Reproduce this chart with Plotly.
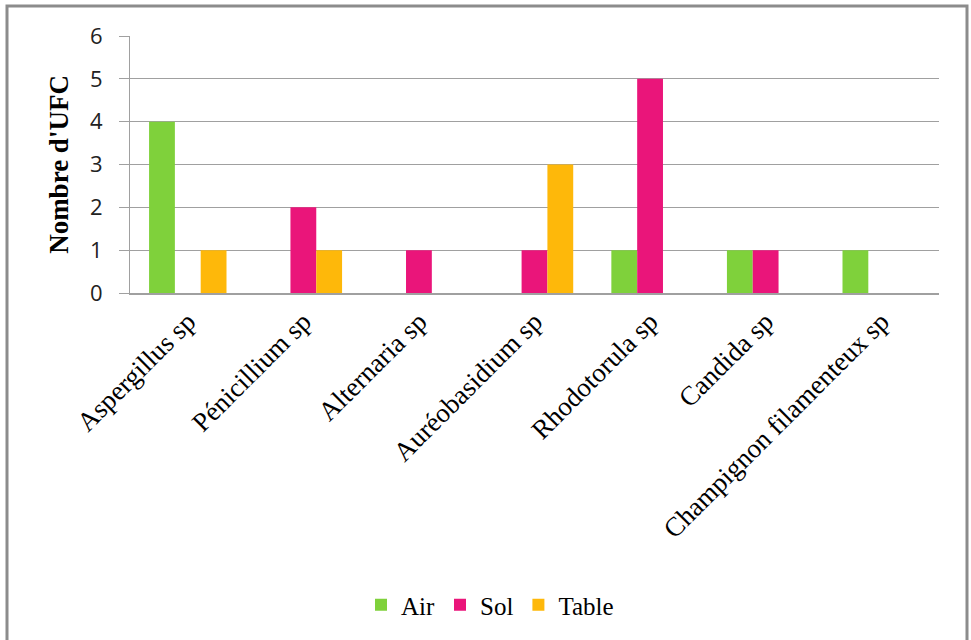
import plotly.graph_objects as go

# Colony counts per species, by sampling site
categories = ["Aspergillus sp", "Pénicillium sp", "Alternaria sp", "Auréobasidium sp",
              "Rhodotorula sp", "Candida sp", "Champignon filamenteux sp"]
air = [4, 0, 0, 0, 1, 1, 1]
sol = [0, 2, 1, 1, 5, 1, 0]
table = [1, 1, 0, 3, 0, 0, 0]

series = [("Air", air, "#7FD13B"), ("Sol", sol, "#EA157A"), ("Table", table, "#FEB80A")]

fig = go.Figure()
for name, vals, color in series:
    fig.add_trace(go.Bar(x=categories, y=vals, name=name, marker=dict(color=color, line=dict(width=0))))

W, H = 971, 640
L, R, T, B = 130, 32, 36, 347
pw, ph = W - L - R, H - T - B

def px(x):
    return (x - L) / pw

def py(y):
    return (H - B - y) / ph

fig.update_layout(
    width=W, height=H,
    margin=dict(l=L, r=R, t=T, b=B),
    paper_bgcolor="white", plot_bgcolor="white",
    barmode="group", bargap=0.33, bargroupgap=0,
    font=dict(family="Liberation Serif", color="black"),
    showlegend=True,
    legend=dict(orientation="h", x=px(490), xanchor="center", y=py(605), yanchor="middle",
                font=dict(family="Liberation Serif", size=25), itemwidth=30, traceorder="normal"),
    xaxis=dict(tickangle=-45, tickfont=dict(family="Liberation Serif", size=27),
               showline=True, linecolor="#A0A0A0", linewidth=2, ticks="", showgrid=False),
    yaxis=dict(range=[0, 6], dtick=1, tickfont=dict(family="Open Sans", size=22, color="#222"),
               showline=True, linecolor="#A0A0A0", linewidth=1, ticks="outside", ticklen=10,
               ticklabelstandoff=12,
               tickcolor="#A0A0A0", gridcolor="#A0A0A0", gridwidth=1.4, zeroline=False,
               title=dict(text="<b>Nombre d'UFC</b>", font=dict(family="Liberation Serif", size=27),
                          standoff=13)),
    shapes=[dict(type="rect", xref="paper", yref="paper",
                 x0=px(7), x1=px(967), y0=py(648), y1=py(6),
                 line=dict(color="#8C8C8C", width=3), fillcolor="rgba(0,0,0,0)", layer="above")],
)

fig.write_html("out.html")
